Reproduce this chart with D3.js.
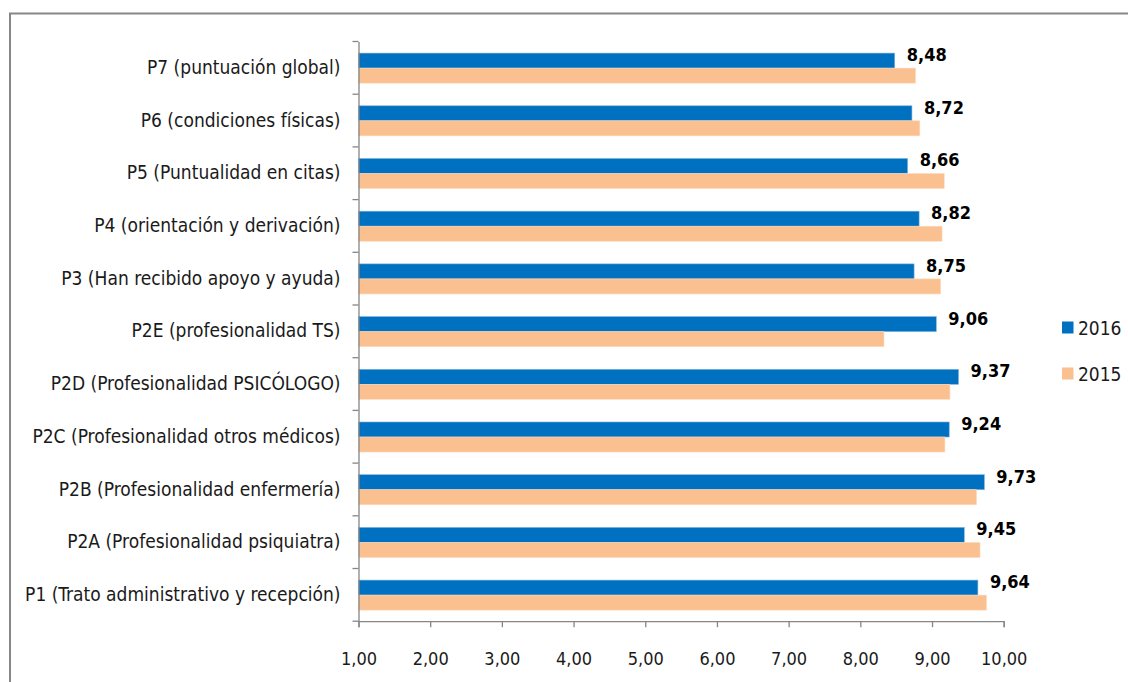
<!DOCTYPE html>
<html>
<head>
<meta charset="utf-8">
<script src="https://cdn.jsdelivr.net/npm/d3@7"></script>
<style>
  body { margin: 0; background: #fff; }
  text { font-family: "DejaVu Sans Condensed", "Liberation Sans Narrow", sans-serif; }
</style>
</head>
<body>
<div class="myViz"></div>
<script>
// categories, top to bottom
var categories = [
  "P7 (puntuación global)",
  "P6 (condiciones físicas)",
  "P5 (Puntualidad en citas)",
  "P4 (orientación y derivación)",
  "P3 (Han recibido apoyo y ayuda)",
  "P2E (profesionalidad TS)",
  "P2D (Profesionalidad PSICÓLOGO)",
  "P2C (Profesionalidad otros médicos)",
  "P2B (Profesionalidad enfermería)",
  "P2A (Profesionalidad psiquiatra)",
  "P1 (Trato administrativo y recepción)"
];
var values2016 = [8.48, 8.72, 8.66, 8.82, 8.75, 9.06, 9.37, 9.24, 9.73, 9.45, 9.64];
var values2015 = [8.77, 8.83, 9.17, 9.14, 9.12, 8.33, 9.25, 9.18, 9.62, 9.67, 9.76];
var seriesNames = ["2016", "2015"];
var xTicks = [1, 2, 3, 4, 5, 6, 7, 8, 9, 10];

var width = 1128, height = 682;
var margin = {top: 41.5, left: 358.5, right: 124, bottom: 60};

var svg = d3.select(".myViz").append("svg")
  .attr("width", width)
  .attr("height", height);

// chart frame (cut off at right and bottom)
svg.append("rect")
  .attr("x", 10).attr("y", 13.5)
  .attr("width", 1200).attr("height", 800)
  .attr("fill", "none")
  .attr("stroke", "#878787")
  .attr("stroke-width", 2);

var x = d3.scaleLinear()
  .domain([1, 10])
  .range([margin.left, 1003.7]);

var y = d3.scaleBand()
  .domain(categories)
  .range([margin.top, margin.top + 11 * 52.7]);

var color = d3.scaleOrdinal().domain(seriesNames).range(["#0070C0", "#FAC090"]);

var bw = y.bandwidth();
var barH = bw * 0.285;
var barOff = bw * 0.22;
var axisY = margin.top + 11 * 52.7;

// bars
var rows = categories.map(function(c, i) {
  return {cat: c, v16: values2016[i], v15: values2015[i]};
});

var g = svg.append("g");

g.selectAll(".bar16").data(rows).enter().append("rect")
  .attr("x", x(1))
  .attr("y", d => y(d.cat) + barOff)
  .attr("width", d => x(d.v16) - x(1))
  .attr("height", barH)
  .attr("fill", color("2016"))
  .attr("stroke", "#7fb2dd")
  .attr("stroke-width", 0.6);

g.selectAll(".bar15").data(rows).enter().append("rect")
  .attr("x", x(1))
  .attr("y", d => y(d.cat) + barOff + barH)
  .attr("width", d => x(d.v15) - x(1))
  .attr("height", barH)
  .attr("fill", color("2015"))
  .attr("stroke", "#fcd9bb")
  .attr("stroke-width", 0.6);

// value labels for 2016
var fmt = d3.format(".2f");
g.selectAll(".lbl").data(rows).enter().append("text")
  .attr("x", d => x(d.v16) + 12)
  .attr("y", d => y(d.cat) + barOff + 8)
  .attr("font-size", 18)
  .attr("font-weight", "bold")
  .attr("fill", "#000")
  .text(d => fmt(d.v16).replace(".", ","));

// y axis
var yAxis = svg.append("g")
  .attr("transform", "translate(" + margin.left + ",0)")
  .call(d3.axisLeft(y).tickSize(0).tickPadding(18));
yAxis.select(".domain").attr("stroke", "#868686").attr("stroke-width", 1.3);
yAxis.selectAll("text").attr("font-size", 19).attr("fill", "#1a1a1a")
  .attr("font-family", "\"DejaVu Sans Condensed\", sans-serif");

// y tick marks on band boundaries
var bounds = categories.map(c => y(c)).concat([axisY]);
svg.append("g").selectAll("line").data(bounds).enter().append("line")
  .attr("x1", margin.left - 6).attr("x2", margin.left)
  .attr("y1", d => d).attr("y2", d => d)
  .attr("stroke", "#868686").attr("stroke-width", 1.3);

// x axis
var xAxis = svg.append("g")
  .attr("transform", "translate(0," + axisY + ")")
  .call(d3.axisBottom(x).tickValues(xTicks).tickSizeOuter(0).tickSize(6).tickPadding(25)
    .tickFormat(d => fmt(d).replace(".", ",")));
xAxis.select(".domain").attr("stroke", "#868686").attr("stroke-width", 1.3);
xAxis.selectAll(".tick line").attr("stroke", "#868686").attr("stroke-width", 1.3);
xAxis.selectAll("text").attr("font-size", 18).attr("fill", "#1a1a1a")
  .attr("font-family", "\"DejaVu Sans Condensed\", sans-serif");

// legend
var legend = svg.append("g").selectAll("g").data(seriesNames).enter().append("g")
  .attr("transform", (d, i) => "translate(1062," + (321.5 + i * 46) + ")");
legend.append("rect")
  .attr("width", 11.5).attr("height", 12)
  .attr("fill", d => color(d));
legend.append("text")
  .attr("x", 16).attr("y", 13)
  .attr("font-size", 19)
  .attr("fill", "#1a1a1a")
  .text(d => d);
</script>
</body>
</html>
